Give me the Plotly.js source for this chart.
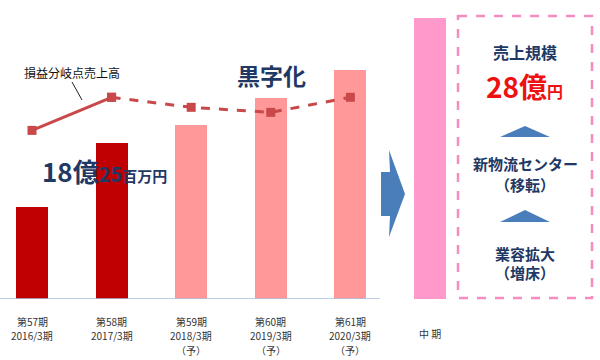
<!DOCTYPE html>
<html><head><meta charset="utf-8">
<script src="https://cdn.plot.ly/plotly-3.0.1.min.js"></script>
<style>html,body{margin:0;padding:0;background:#fff}#chart{width:600px;height:360px}</style>
</head><body><div id="chart"></div>
<script>
// ---- data ----
const periods = ['第57期','第58期','第59期','第60期','第61期','中期'];
const fiscalYears = ['2016/3期','2017/3期','2018/3期','2019/3期','2020/3期',''];
const forecastMark = ['','','（予）','（予）','（予）',''];
const sales = [9.2, 15.5, 17.3, 20.0, 22.8, 28.0];          // 売上高 (億円, estimated)
const breakEven = [16.8, 20.1, 19.1, 18.6, 20.1];           // 損益分岐点売上高 (estimated)
const targetText = ['売上規模','28億','円'];
const stepTexts = [['新物流センター','（移転）'],['業容拡大','（増床）']];

// ---- styles ----
const barColors = ['#c00000','#c00000','#ff9999','#ff9999','#ff9999','#ff99cc'];
const navy = '#1f3864';
const jp = '"Noto Sans CJK JP", "Noto Sans", sans-serif';
const PH = 299;
const X = p => p/600;
const Y = p => (PH - p)/PH;
const xs = sales.map((_, i) => i);

const traces = [
  {type:'bar', x:xs, y:sales, width:0.4, marker:{color:barColors}, hoverinfo:'none'},
  {type:'scatter', mode:'lines+markers', x:xs.slice(0,2), y:breakEven.slice(0,2),
   line:{color:'#c9484a', width:3}, marker:{symbol:'square', size:9, color:'#c9484a'}, hoverinfo:'none'},
  {type:'scatter', mode:'lines+markers', x:xs.slice(1,5), y:breakEven.slice(1,5),
   line:{color:'#c9484a', width:3, dash:'dash'}, marker:{symbol:'square', size:9, color:'#c9484a'}, hoverinfo:'none'}
];

const ann = [];
const A = (o) => ann.push(Object.assign({showarrow:false, xanchor:'center', yanchor:'middle'}, o));
const lbl = {family:jp, size:10, color:'#333'};
periods.forEach((p, i) => {
  if (i === 5) {
    A({xref:'x', yref:'paper', x:i, y:Y(333), text:'中 期', font:lbl});
    return;
  }
  const lines = [p, fiscalYears[i]];
  if (forecastMark[i]) lines.push(forecastMark[i]);
  lines.forEach((t, k) => A({xref:'x', yref:'paper', x:i, y:Y(321 + 14.6*k), text:t, font:lbl}));
});

A({xref:'paper', yref:'paper', x:X(72), y:Y(73), text:'損益分岐点売上高', font:{family:jp, size:12, color:'#111'}});
A({xref:'paper', yref:'paper', x:X(40), y:Y(170), xanchor:'left',
  text:"<b><span style='font-size:26px'>18億</span><span style='font-size:20px'>25</span><span style='font-size:15px'>百万円</span></b>",
  font:{family:jp, size:26, color:navy}});
A({xref:'paper', yref:'paper', x:X(271), y:Y(75), text:'<b>黒字化</b>', font:{family:jp, size:23, color:navy}});

// right panel
A({xref:'paper', yref:'paper', x:X(525), y:Y(52), text:'<b>'+targetText[0]+'</b>', font:{family:jp, size:16, color:navy}});
A({xref:'paper', yref:'paper', x:X(524), y:Y(86),
  text:"<b><span style='font-size:28px'>"+targetText[1]+"</span><span style='font-size:16px'>"+targetText[2]+"</span></b>",
  font:{family:jp, size:28, color:'#ee1111'}});
A({xref:'paper', yref:'paper', x:X(525), y:Y(163), text:'<b>'+stepTexts[0][0]+'</b>', font:{family:jp, size:15, color:navy}});
A({xref:'paper', yref:'paper', x:X(525), y:Y(184), text:'<b>'+stepTexts[0][1]+'</b>', font:{family:jp, size:15, color:navy}});
A({xref:'paper', yref:'paper', x:X(525), y:Y(253), text:'<b>'+stepTexts[1][0]+'</b>', font:{family:jp, size:15, color:navy}});
A({xref:'paper', yref:'paper', x:X(525), y:Y(272), text:'<b>'+stepTexts[1][1]+'</b>', font:{family:jp, size:15, color:navy}});

const path = pts => 'M ' + pts.map(p => X(p[0]) + ',' + Y(p[1])).join(' L ') + ' Z';
const shapes = [
  {type:'line', xref:'paper', yref:'y', x0:0, x1:X(380), y0:0, y1:0, line:{color:'#a8c0e0', width:1.5}, layer:'above'},
  {type:'line', xref:'paper', yref:'paper', x0:X(72), y0:Y(82), x1:X(82), y1:Y(100), line:{color:'#222', width:1}},
  {type:'path', xref:'paper', yref:'paper', path:path([[381,172],[390,172],[389,150],[405,194],[389,237],[390,216],[381,216]]),
   fillcolor:'#4a7ebb', line:{width:0}},
  {type:'rect', xref:'paper', yref:'paper', x0:X(458), x1:X(592), y0:Y(16), y1:Y(298),
   line:{color:'#f48cbf', width:2.5, dash:'dash'}},
  {type:'path', xref:'paper', yref:'paper', path:path([[500,137],[525,126],[550,137]]), fillcolor:'#4a7ebb', line:{width:0}},
  {type:'path', xref:'paper', yref:'paper', path:path([[500,222],[525,210],[550,222]]), fillcolor:'#4a7ebb', line:{width:0}}
];

const layout = {
  width:600, height:360, margin:{l:0, r:0, t:0, b:61},
  paper_bgcolor:'#fff', plot_bgcolor:'#fff', showlegend:false,
  xaxis:{range:[-0.402, 7.136], showticklabels:false, showgrid:false, zeroline:false, showline:false, ticks:''},
  yaxis:{range:[0, 28*299/281], visible:false, showgrid:false, zeroline:false},
  annotations:ann, shapes:shapes, bargap:0
};
Plotly.newPlot('chart', traces, layout, {staticPlot:true});
</script></body></html>
